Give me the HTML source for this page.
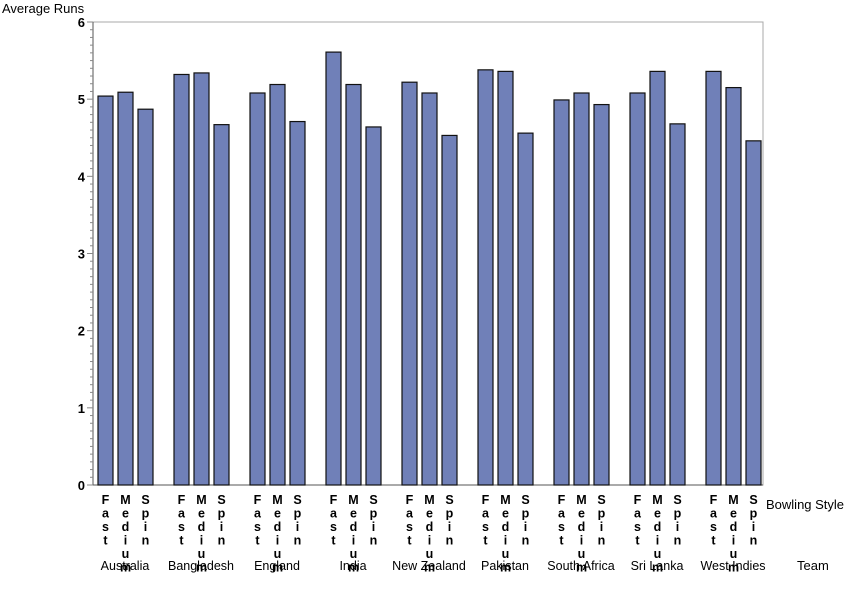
<!DOCTYPE html>
<html><head><meta charset="utf-8"><style>
body{margin:0;background:#fff}
svg text{font-family:"Liberation Sans",Arial,sans-serif}
</style></head><body>
<svg id="chart" width="850" height="601">
<text x="2" y="13" font-size="13">Average Runs</text>
<rect x="93" y="22" width="670" height="463" fill="none" stroke="#a8a8a8"/>
<line x1="93" y1="22" x2="93" y2="485" stroke="#555"/>
<line x1="93" y1="485" x2="763" y2="485" stroke="#555"/>
<g id="ticks"></g><g id="bars"></g><g id="labels"></g>
<text x="766" y="509" font-size="13">Bowling Style</text>
<text x="797" y="570" font-size="13">Team</text>
</svg>
<script>
const teams=["Australia","Bangladesh","England","India","New Zealand","Pakistan","South Africa","Sri Lanka","West Indies"];
const styles=["Fast","Medium","Spin"];
const fast=[5.04,5.32,5.08,5.61,5.22,5.38,4.99,5.08,5.36];
const medium=[5.09,5.34,5.19,5.19,5.08,5.36,5.08,5.36,5.15];
const spin=[4.87,4.67,4.71,4.64,4.53,4.56,4.93,4.68,4.46];
const yTicks=[0,1,2,3,4,5,6];
const NS="http://www.w3.org/2000/svg";
const y0=485,yTop=22,yMax=6;
const y=v=>y0-(v/yMax)*(y0-yTop);
const gx=i=>98+i*76, bx=(i,j)=>gx(i)+j*20;
function mk(t,a,p){const e=document.createElementNS(NS,t);for(const k in a)e.setAttribute(k,a[k]);p.appendChild(e);return e;}
const T=document.getElementById('ticks'),B=document.getElementById('bars'),L=document.getElementById('labels');
for(let k=0;k<=60;k++){const v=k/10,maj=k%10===0;
 const l=mk('line',{x1:maj?87:90,x2:93,y1:y(v),y2:y(v),stroke:'#888'},T);
 
 }
yTicks.forEach(v=>{const t=mk('text',{x:85,y:y(v)+5,'font-size':13,'font-weight':'bold','text-anchor':'end'},T);t.textContent=v;
 
 });
const series=[fast,medium,spin];
teams.forEach((tm,i)=>{
 series.forEach((s,j)=>{
  const r=mk('rect',{x:bx(i,j),y:y(s[i]),width:15,height:y0-y(s[i]),fill:'#7080b8',stroke:'#111','stroke-width':1.2},B);
  
  
  const t=mk('text',{'font-size':12.5,'font-weight':'bold','text-anchor':'middle'},L);
  
  
  [...styles[j]].forEach((c,k)=>{const ts=mk('tspan',{x:bx(i,j)+7.5,y:504+k*13.5},t);ts.textContent=c;});
 });
 const t=mk('text',{x:gx(i)+27,y:570,'font-size':12.5,'text-anchor':'middle'},L);t.textContent=tm;
 
 
});
</script>
</body></html>
